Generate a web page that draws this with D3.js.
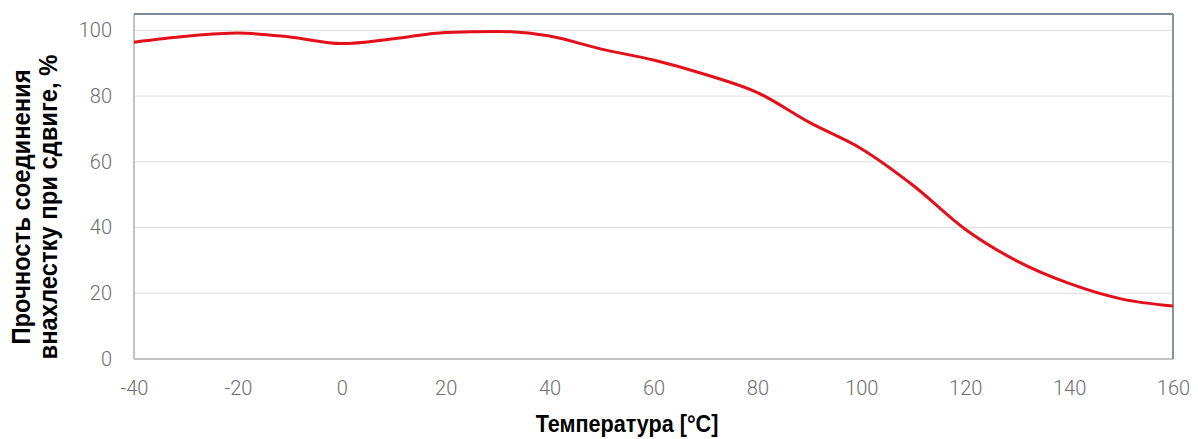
<!DOCTYPE html>
<html>
<head>
<meta charset="utf-8">
<script src="https://cdn.jsdelivr.net/npm/d3@7"></script>
<style>
  body { margin: 0; background: #fff; }
</style>
</head>
<body>
<div id="chart"></div>
<script>
let w = 1198;
let h = 439;
let margin = {top: 14, right: 25, bottom: 79, left: 134};

// temperature, °C
const temps = [-40, -30, -20, -10, 0, 10, 20, 30, 40, 50, 60, 70, 80, 90, 100, 110, 120, 130, 140, 150, 160];
// shear strength of lap joint, %
const strength = [96.4, 98.2, 99.2, 98.0, 96.0, 97.5, 99.4, 99.7, 98.3, 94.3, 91.0, 86.6, 81.1, 72.0, 64.0, 52.8, 39.5, 29.8, 23.0, 18.3, 16.1];
const xTicks = [-40, -20, 0, 20, 40, 60, 80, 100, 120, 140, 160];
const yTicks = [0, 20, 40, 60, 80, 100];

const data = temps.map((t, i) => ({t: t, v: strength[i]}));

let svg = d3.select('#chart')
    .append('svg')
    .attr('width', w)
    .attr('height', h);

let xScale = d3.scaleLinear()
    .domain([-40, 160])
    .range([margin.left, w - margin.right]);

let yScale = d3.scaleLinear()
    .domain([0, 105])
    .range([h - margin.bottom - 1, margin.top]);

// gridlines
svg.append('g')
    .selectAll('line')
    .data(yTicks.filter(d => d > 0))
    .enter()
    .append('line')
    .attr('x1', margin.left)
    .attr('x2', w - margin.right)
    .attr('y1', d => yScale(d))
    .attr('y2', d => yScale(d))
    .attr('stroke', '#dcdcdc')
    .attr('stroke-width', 1);

let yAxis = d3.axisLeft(yScale)
    .tickValues(yTicks)
    .tickSize(0)
    .tickPadding(22);

let yG = svg.append('g')
    .attr('class', 'yAxis')
    .attr('transform', 'translate(' + margin.left + ',0)')
    .call(yAxis);

let xAxis = d3.axisBottom(xScale)
    .tickValues(xTicks)
    .tickFormat(d => String(d))   // plain hyphen like the original
    .tickSize(0)
    .tickPadding(22);

let xG = svg.append('g')
    .attr('class', 'xAxis')
    .attr('transform', 'translate(0,' + yScale(0) + ')')
    .call(xAxis);

[yG, xG].forEach(g => {
    g.select('.domain').remove();
    g.selectAll('text')
        .style('font-family', 'Roboto, sans-serif')
        .style('font-weight', '300')
        .style('font-size', '20px')
        .attr('fill', '#6e6e6e');
});

// frame: left + bottom light, top + right darker
svg.append('line')
    .attr('x1', margin.left).attr('x2', margin.left)
    .attr('y1', margin.top).attr('y2', yScale(0))
    .attr('stroke', '#c4c4c4').attr('stroke-width', 2);
svg.append('line')
    .attr('x1', margin.left).attr('x2', w - margin.right)
    .attr('y1', yScale(0)).attr('y2', yScale(0))
    .attr('stroke', '#c4c4c4').attr('stroke-width', 2);
svg.append('line')
    .attr('x1', margin.left).attr('x2', w - margin.right)
    .attr('y1', margin.top).attr('y2', margin.top)
    .attr('stroke', '#7d8b98').attr('stroke-width', 2);
svg.append('line')
    .attr('x1', w - margin.right).attr('x2', w - margin.right)
    .attr('y1', margin.top).attr('y2', yScale(0))
    .attr('stroke', '#8a929a').attr('stroke-width', 2);

// curve
svg.append('path')
    .datum(data)
    .attr('d', d3.line()
        .x(d => xScale(d.t))
        .y(d => yScale(d.v))
        .curve(d3.curveMonotoneX))
    .attr('stroke', '#e3101c')
    .style('stroke-width', 3)
    .style('fill', 'none');

// axis titles (narrow bold look: squeeze Liberation Sans horizontally)
svg.append('text')
    .attr('text-anchor', 'middle')
    .attr('transform', 'translate(627,432) scale(0.9,1)')
    .style('font-family', '"Liberation Sans", Arial, sans-serif')
    .style('font-weight', 'bold')
    .style('font-size', '24px')
    .text('Температура [°C]');

let yLabel = svg.append('text')
    .attr('text-anchor', 'middle')
    .attr('transform', 'translate(0,207) rotate(-90) scale(0.915,1)')
    .style('font-family', '"Liberation Sans", Arial, sans-serif')
    .style('font-weight', 'bold')
    .style('font-size', '26px');

yLabel.append('tspan')
    .attr('x', 0)
    .attr('y', 30)
    .text('Прочность соединения');
yLabel.append('tspan')
    .attr('x', 0)
    .attr('y', 57)
    .text('внахлестку при сдвиге, %');
</script>
</body>
</html>
